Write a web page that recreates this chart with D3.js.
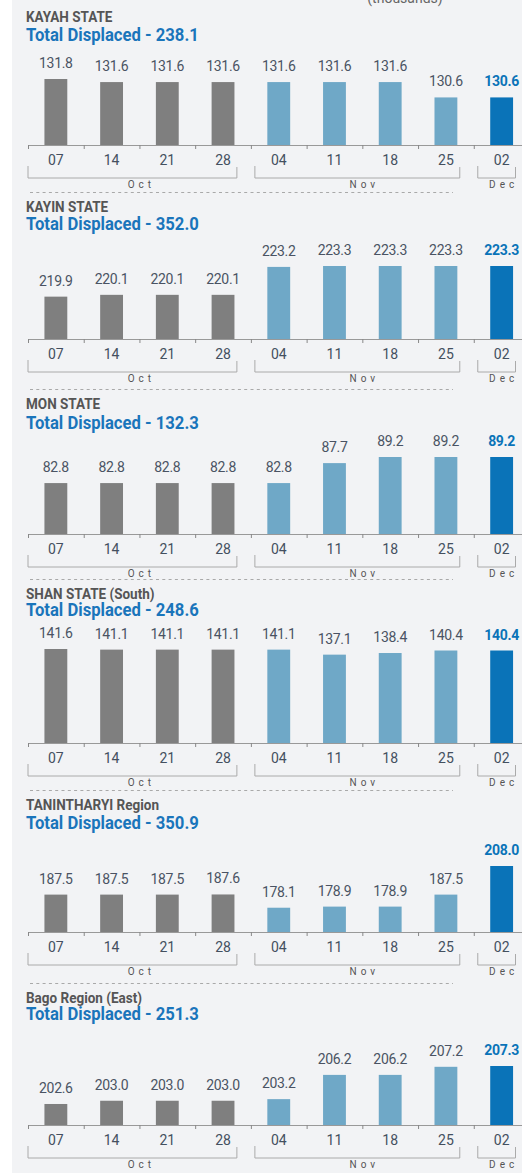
<!DOCTYPE html>
<html>
<head>
<meta charset="utf-8">
<script src="https://cdn.jsdelivr.net/npm/d3@7"></script>
<style>
  html, body { margin: 0; padding: 0; background: #fff; }
  svg { display: block; font-family: Roboto, "Liberation Sans", sans-serif; }
</style>
</head>
<body>
<div id="chart"></div>
<script>
// week labels and the month each week belongs to
var weeks = ["07", "14", "21", "28", "04", "11", "18", "25", "02"];
var monthNames = ["Oct", "Nov", "Dec"];
var weekMonth = [0, 0, 0, 0, 1, 1, 1, 1, 2];

var regions = ["KAYAH STATE", "KAYIN STATE", "MON STATE", "SHAN STATE (South)", "TANINTHARYI Region", "Bago Region (East)"];
var totals = ["238.1", "352.0", "132.3", "248.6", "350.9", "251.3"];

var kayah = [131.8, 131.6, 131.6, 131.6, 131.6, 131.6, 131.6, 130.6, 130.6];
var kayin = [219.9, 220.1, 220.1, 220.1, 223.2, 223.3, 223.3, 223.3, 223.3];
var mon = [82.8, 82.8, 82.8, 82.8, 82.8, 87.7, 89.2, 89.2, 89.2];
var shan = [141.6, 141.1, 141.1, 141.1, 141.1, 137.1, 138.4, 140.4, 140.4];
var tanintharyi = [187.5, 187.5, 187.5, 187.6, 178.1, 178.9, 178.9, 187.5, 208.0];
var bago = [202.6, 203.0, 203.0, 203.0, 203.2, 206.2, 206.2, 207.2, 207.3];

// lower end of each panel's (truncated) value axis
var axisFloor = [127.5, 215.2, 70.3, 66.7, 160.7, 200.0];

var series = [kayah, kayin, mon, shan, tanintharyi, bago];

// layout: title centre, total centre, axis line, tallest bar height
var layout = [
	{title: 16, total: 34, axis: 145, h: 66},
	{title: 206, total: 223, axis: 339, h: 73},
	{title: 403, total: 422, axis: 534, h: 77},
	{title: 593, total: 609, axis: 743, h: 94},
	{title: 804, total: 822, axis: 932, h: 66},
	{title: 997, total: 1013, axis: 1125, h: 59}
];

var monthColors = ["#7f7f7f", "#6fa8c7", "#0a73b8"];
var width = 522, height = 1173;
var condense = 0.9;

var svg = d3.select("#chart").append("svg")
	.attr("width", width)
	.attr("height", height);

svg.append("rect")
	.attr("x", 12).attr("y", 0)
	.attr("width", width - 12).attr("height", height)
	.attr("fill", "#f2f3f5");

svg.append("text")
	.attr("x", 405).attr("y", 3)
	.attr("text-anchor", "middle")
	.attr("font-size", 14)
	.attr("fill", "#666")
	.text("(thousands)");

var x = d3.scaleBand()
	.domain(d3.range(weeks.length))
	.range([28, 529.5])
	.paddingInner(0.59)
	.paddingOuter(0.295);

var xEdge = d3.scaleLinear()
	.domain([0, weeks.length])
	.range([28, 529.5]);

function condensed(sel) {
	sel.each(function() {
		var len = this.getComputedTextLength();
		d3.select(this)
			.attr("textLength", len * condense)
			.attr("lengthAdjust", "spacingAndGlyphs");
	});
}

series.forEach(function(values, p) {
	var L = layout[p];
	var g = svg.append("g");

	var y = d3.scaleLinear()
		.domain([axisFloor[p], d3.max(values)])
		.range([L.axis, L.axis - L.h]);

	//separator above every panel but the first
	if(p > 0) {
		g.append("line")
			.attr("x1", 30).attr("x2", 453)
			.attr("y1", L.title - 13.5).attr("y2", L.title - 13.5)
			.attr("stroke", "#a9a9a9")
			.attr("stroke-dasharray", "3,3.3");
	}

	g.append("text")
		.attr("x", 26).attr("y", L.title + 5.5)
		.attr("font-size", 15)
		.attr("font-weight", 700)
		.attr("fill", "#555")
		.text(regions[p])
		.call(condensed);

	g.append("text")
		.attr("x", 26).attr("y", L.total + 6.5)
		.attr("font-size", 18.5)
		.attr("font-weight", 700)
		.attr("fill", "#1a75bb")
		.text("Total Displaced - " + totals[p])
		.call(condensed);

	//bars
	g.selectAll(".bar")
		.data(values)
		.enter().append("rect")
		.attr("class", "bar")
		.attr("x", function(d, i) { return x(i); })
		.attr("width", x.bandwidth())
		.attr("y", function(d) { return y(d); })
		.attr("height", function(d) { return L.axis - y(d); })
		.attr("fill", function(d, i) { return monthColors[weekMonth[i]]; });

	//value labels
	g.selectAll(".val")
		.data(values)
		.enter().append("text")
		.attr("class", "val")
		.attr("x", function(d, i) { return x(i) + x.bandwidth() / 2; })
		.attr("y", function(d) { return y(d) - 11; })
		.attr("text-anchor", "middle")
		.attr("font-size", 14)
		.attr("letter-spacing", -0.3)
		.attr("font-weight", function(d, i) { return i === values.length - 1 ? 700 : 400; })
		.attr("fill", function(d, i) { return i === values.length - 1 ? "#0a73b8" : "#4a5363"; })
		.text(d3.format(".1f"));

	//axis line with ticks between weeks
	var edgeAxis = d3.axisBottom(xEdge)
		.tickValues(d3.range(weeks.length + 1))
		.tickSize(4)
		.tickSizeOuter(0)
		.tickFormat("");
	var ea = g.append("g")
		.attr("transform", "translate(0," + L.axis + ")")
		.call(edgeAxis);
	ea.select(".domain").attr("stroke", "#999");
	ea.selectAll(".tick line").attr("stroke", "#888");

	//week labels
	var labelAxis = d3.axisBottom(x)
		.tickSize(0)
		.tickPadding(0)
		.tickFormat(function(i) { return weeks[i]; });
	var la = g.append("g")
		.attr("transform", "translate(0," + (L.axis + 20) + ")")
		.call(labelAxis);
	la.select(".domain").remove();
	la.selectAll("text")
		.attr("dy", 0)
		.attr("font-family", "Roboto, sans-serif")
		.attr("font-size", 14)
		.attr("fill", "#44505f");

	//month brackets
	monthNames.forEach(function(m, k) {
		var idx = d3.range(weeks.length).filter(function(i) { return weekMonth[i] === k; });
		var a = xEdge(d3.min(idx)), b = xEdge(d3.max(idx) + 1);
		var left = k === 0 ? a : a + 4;
		var right = b - 14;
		var top = L.axis + 21, bot = L.axis + 33;
		g.append("path")
			.attr("d", "M" + left + "," + top + "V" + bot + "H" + right + "V" + (top + 1))
			.attr("fill", "none")
			.attr("stroke", "#aaa")
			.attr("stroke-width", 1);
		g.append("text")
			.attr("x", (a + b) / 2 + 2)
			.attr("y", L.axis + 43)
			.attr("text-anchor", "middle")
			.attr("font-size", 10)
			.attr("letter-spacing", 4)
			.attr("fill", "#555")
			.text(m);
	});
});
</script>
</body>
</html>
